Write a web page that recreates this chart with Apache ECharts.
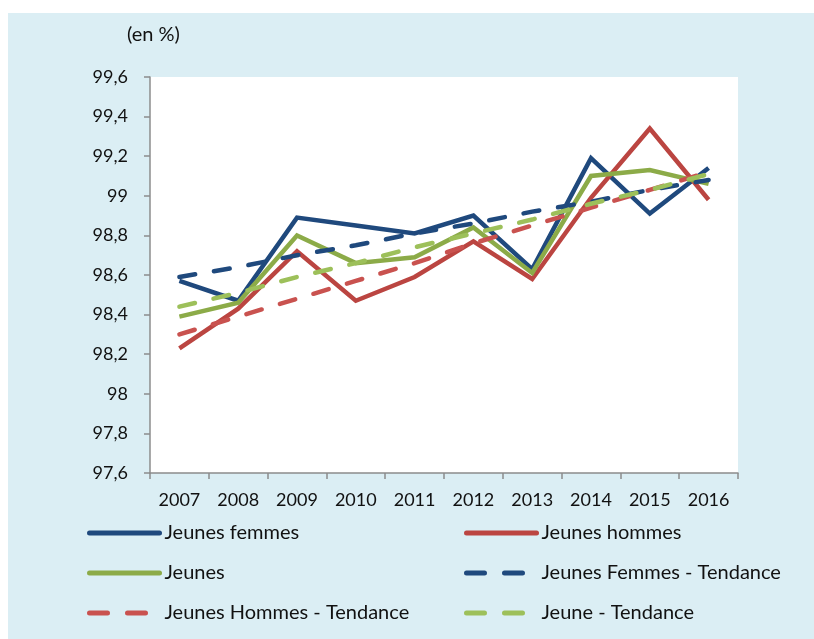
<!DOCTYPE html>
<html>
<head>
<meta charset="utf-8">
<script src="https://cdn.jsdelivr.net/npm/echarts@6/dist/echarts.min.js"></script>
<style>
  body { margin: 0; background: #fff; }
  .wrap { position: relative; width: 814px; height: 639px; }
  .bg { position: absolute; left: 8px; top: 13px; right: 0; bottom: 0; background: #dbeef4; }
  .box1 { position: absolute; left: 0; top: 0; width: 814px; height: 639px; }
</style>
</head>
<body>
<div class="wrap">
  <div class="bg"></div>
  <div class="box1"></div>
</div>
<script>
// données
let years = ["2007", "2008", "2009", "2010", "2011", "2012", "2013", "2014", "2015", "2016"];
let femmes = [98.57, 98.47, 98.89, 98.85, 98.81, 98.90, 98.63, 99.19, 98.91, 99.14];
let hommes = [98.23, 98.43, 98.72, 98.47, 98.59, 98.77, 98.58, 98.99, 99.34, 98.98];
let jeunes = [98.39, 98.46, 98.80, 98.66, 98.69, 98.84, 98.61, 99.10, 99.13, 99.06];
let femmesTend = [98.59, 98.64, 98.70, 98.75, 98.81, 98.86, 98.92, 98.97, 99.03, 99.08];
let hommesTend = [98.30, 98.39, 98.48, 98.57, 98.66, 98.76, 98.85, 98.94, 99.03, 99.12];
let jeunesTend = [98.44, 98.51, 98.59, 98.66, 98.74, 98.81, 98.88, 98.96, 99.03, 99.11];

let names = [
  "Jeunes femmes", "Jeunes hommes", "Jeunes",
  "Jeunes Femmes - Tendance", "Jeunes Hommes - Tendance", "Jeune - Tendance"
];
let colors = ["#1f497d", "#bb4541", "#8cab48", "#1f497d", "#c9524f", "#9dc05a"];
let seriesData = [femmes, hommes, jeunes, femmesTend, hommesTend, jeunesTend];

let font = "Lato, 'Open Sans', sans-serif";
let myChart1 = echarts.init(document.querySelector(".box1"));

// une légende par entrée, placées en deux colonnes
let legendPos = [
  [87, 523], [464, 523],
  [87, 563], [464, 563],
  [87, 603], [464, 603],
];
let legends = names.map(function (n, i) {
  let dashed = i >= 3;
  return {
    data: [n],
    left: legendPos[i][0],
    top: legendPos[i][1],
    padding: 0,
    itemWidth: 70,
    itemHeight: 16,
    itemGap: 5,
    itemStyle: { opacity: 0 },
    lineStyle: {
      width: 5,
      type: dashed ? [18, 20] : "solid",
      cap: "round",
    },
    textStyle: { fontFamily: font, fontSize: 20, color: "#111" },
  };
});

var option = {
  animation: false,
  title: {
    text: "(en %)",
    left: 122,
    top: 20,
    textStyle: { fontFamily: font, fontSize: 20, fontWeight: "normal", color: "#111" },
  },
  legend: legends,
  grid: {
    left: 150,
    right: 76,
    top: 77,
    bottom: 166,
    show: true,
    backgroundColor: "#fff",
    borderWidth: 0,
  },
  xAxis: {
    type: "category",
    data: years,
    boundaryGap: true,
    axisLine: { lineStyle: { color: "#8c8c8c", width: 1.5 } },
    axisTick: { show: true, length: 6, lineStyle: { color: "#8c8c8c", width: 1.5 } },
    axisLabel: { margin: 18, fontFamily: font, fontSize: 18, color: "#111" },
  },
  yAxis: {
    type: "value",
    min: 97.6,
    max: 99.6,
    interval: 0.2,
    splitLine: { show: false },
    axisLine: { show: true, lineStyle: { color: "#8c8c8c", width: 1.5 } },
    axisTick: { show: true, length: 6, lineStyle: { color: "#8c8c8c", width: 1.5 } },
    axisLabel: {
      margin: 22,
      fontFamily: font,
      fontSize: 18,
      color: "#111",
      formatter: function (v) {
        return String(+v.toFixed(1)).replace(".", ",");
      },
    },
  },
  series: seriesData.map(function (d, i) {
    return {
      name: names[i],
      type: "line",
      data: d,
      symbol: "none",
      color: colors[i],
      lineStyle: {
        color: colors[i],
        width: 4.5,
        type: i < 3 ? "solid" : [16, 19],
        cap: i < 3 ? "butt" : "round",
        join: "miter",
      },
    };
  }),
};

myChart1.setOption(option);
</script>
</body>
</html>
